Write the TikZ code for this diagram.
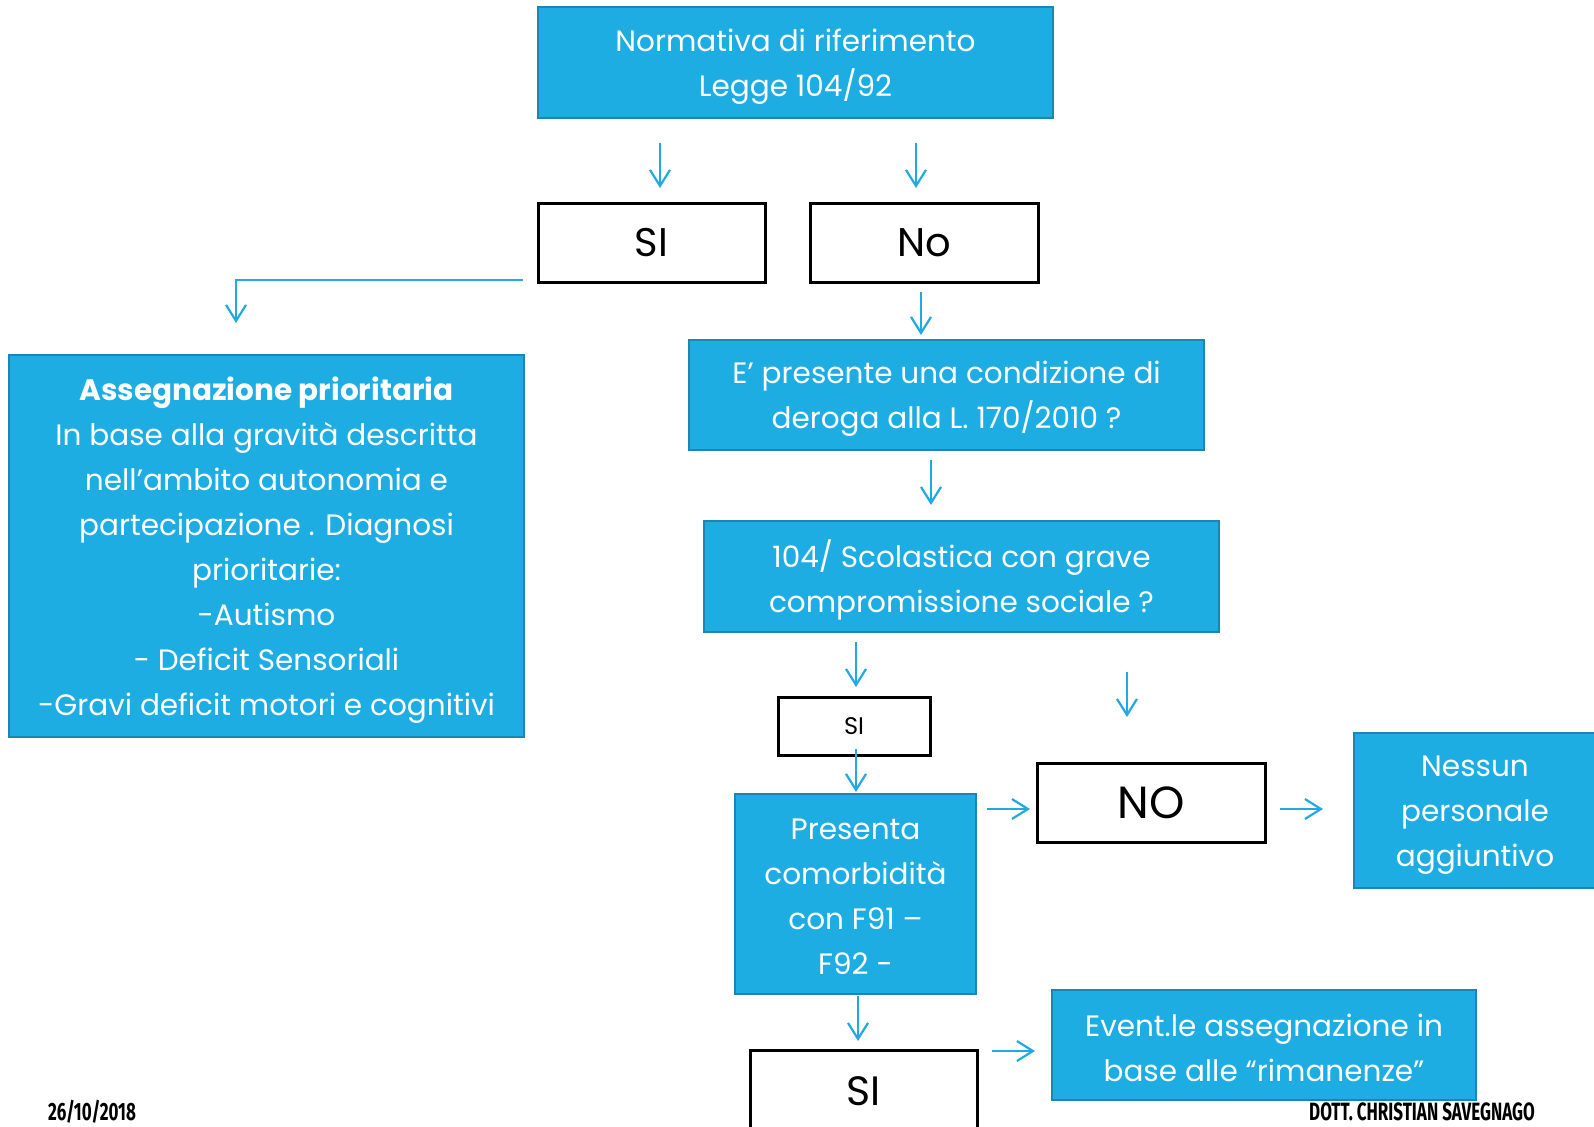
\documentclass[tikz,border=0pt]{standalone}
\usepackage{fontspec}
\setmainfont{Poppins}
\newfontfamily\footfont[FakeStretch=0.68]{Fira Sans}
\usetikzlibrary{arrows.meta}
\definecolor{boxblue}{HTML}{1EADE3}
\definecolor{boxedge}{HTML}{1B86B3}
\definecolor{arrowblue}{HTML}{23A9E1}
\tikzset{
  bluebox/.style={draw=boxedge, line width=2.5pt, fill=boxblue, inner sep=0pt},
  btext/.style={text=white, align=center, inner sep=0pt, font=\fontsize{29.5}{45}\selectfont},
  whitebox/.style={draw=black, line width=3pt, fill=white, inner sep=0pt, text=black},
  arr/.style={draw=arrowblue, line width=2.2pt, -{Straight Barb[length=16pt,width=20pt,line width=2.2pt]}},
  foot/.style={font=\footfont\bfseries\fontsize{25}{27}\selectfont, text=black, inner sep=0pt, anchor=base}
}
\begin{document}
\begin{tikzpicture}[x=1pt,y=-1pt]
\useasboundingbox (0,0) rectangle (1594,1126);
\fill[white] (0,0) rectangle (1594,1126);
% blue boxes
\node[bluebox, minimum width=515pt, minimum height=111pt] (top) at (795.5,62.5) {};
\node[bluebox, minimum width=515pt, minimum height=382pt] (ass) at (266.5,546) {};
\node[bluebox, minimum width=515pt, minimum height=110pt] (cond) at (946.5,395) {};
\node[bluebox, minimum width=515pt, minimum height=111pt] (q104) at (961.5,576.5) {};
\node[bluebox, minimum width=241pt, minimum height=200pt] (pres) at (855.5,894) {};
\node[bluebox, minimum width=242pt, minimum height=155pt] (ness) at (1475,810.5) {};
\node[bluebox, minimum width=424pt, minimum height=110pt] (ev) at (1264,1045) {};
% blue box texts
\node[btext] (topt) at ([yshift=-4pt]top.center) {Normativa di riferimento\\Legge 104/92};
\node[btext] (asst) at ([yshift=-4pt]ass.center) {\textbf{Assegnazione prioritaria}\\In base alla gravità descritta\\nell’ambito autonomia e\\partecipazione . Diagnosi\\prioritarie:\\-Autismo\\- Deficit Sensoriali\\-Gravi deficit motori e cognitivi};
\node[btext] (condt) at ([yshift=-4pt]cond.center) {E’ presente una condizione di\\deroga alla L. 170/2010 ?};
\node[btext] (q104t) at ([yshift=-3pt]q104.center) {104/ Scolastica con grave\\compromissione sociale ?};
\node[btext] (prest) at ([yshift=-3pt]pres.center) {Presenta\\comorbidità\\con F91 –\\F92 -};
\node[btext] (nesst) at ([yshift=-5pt]ness.center) {Nessun\\personale\\aggiuntivo};
\node[btext] (evt) at ([yshift=-3pt]ev.center) {Event.le assegnazione in\\base alle “rimanenze”};
% white boxes
\node[whitebox, minimum width=227pt, minimum height=79pt, font=\fontsize{40}{44}\selectfont] (si1) at (651.5,242.5) {SI};
\node[whitebox, minimum width=228pt, minimum height=79pt, font=\fontsize{40}{44}\selectfont] (no1) at (924,242.5) {No};
\node[whitebox, minimum width=152pt, minimum height=58pt, font=\fontsize{24}{26}\selectfont] (si2) at (854,726) {SI};
\node[whitebox, minimum width=228pt, minimum height=79pt, font=\fontsize{45}{48}\selectfont] (noB) at (1151,802.5) {NO};
\node[whitebox, minimum width=227pt, minimum height=82pt, font=\fontsize{41}{44}\selectfont] (siB) at (863.5,1091) {SI};
% arrows
\coordinate (a1s) at (660,143); \coordinate (a1e) at (660,188);
\coordinate (a2s) at (916,143); \coordinate (a2e) at (916,188);
\coordinate (l1s) at (523,280); \coordinate (l1c) at (236,280); \coordinate (l1e) at (236,323);
\coordinate (a3s) at (921,292); \coordinate (a3e) at (921,335);
\coordinate (a4s) at (931,460); \coordinate (a4e) at (931,505);
\coordinate (a5s) at (856,642); \coordinate (a5e) at (856,687);
\coordinate (a6s) at (1127,672); \coordinate (a6e) at (1127,717);
\coordinate (a7s) at (856,749); \coordinate (a7e) at (856,792);
\coordinate (a8s) at (987,809); \coordinate (a8e) at (1030,809);
\coordinate (a9s) at (1280,809); \coordinate (a9e) at (1323,809);
\coordinate (a10s) at (858,996); \coordinate (a10e) at (858,1041);
\coordinate (a11s) at (992,1051); \coordinate (a11e) at (1035,1051);
\draw[arr] (a1s) -- (a1e);
\draw[arr] (a2s) -- (a2e);
\draw[arr] (l1s) -- (l1c) -- (l1e);
\draw[arr] (a3s) -- (a3e);
\draw[arr] (a4s) -- (a4e);
\draw[arr] (a5s) -- (a5e);
\draw[arr] (a6s) -- (a6e);
\draw[arr] (a7s) -- (a7e);
\draw[arr] (a8s) -- (a8e);
\draw[arr] (a9s) -- (a9e);
\draw[arr] (a10s) -- (a10e);
\draw[arr] (a11s) -- (a11e);
% footer
\node[foot] (date) at (92,1120) {26/10/2018};
\node[foot] (auth) at (1422,1120) {DOTT. CHRISTIAN SAVEGNAGO};
\end{tikzpicture}
\end{document}
